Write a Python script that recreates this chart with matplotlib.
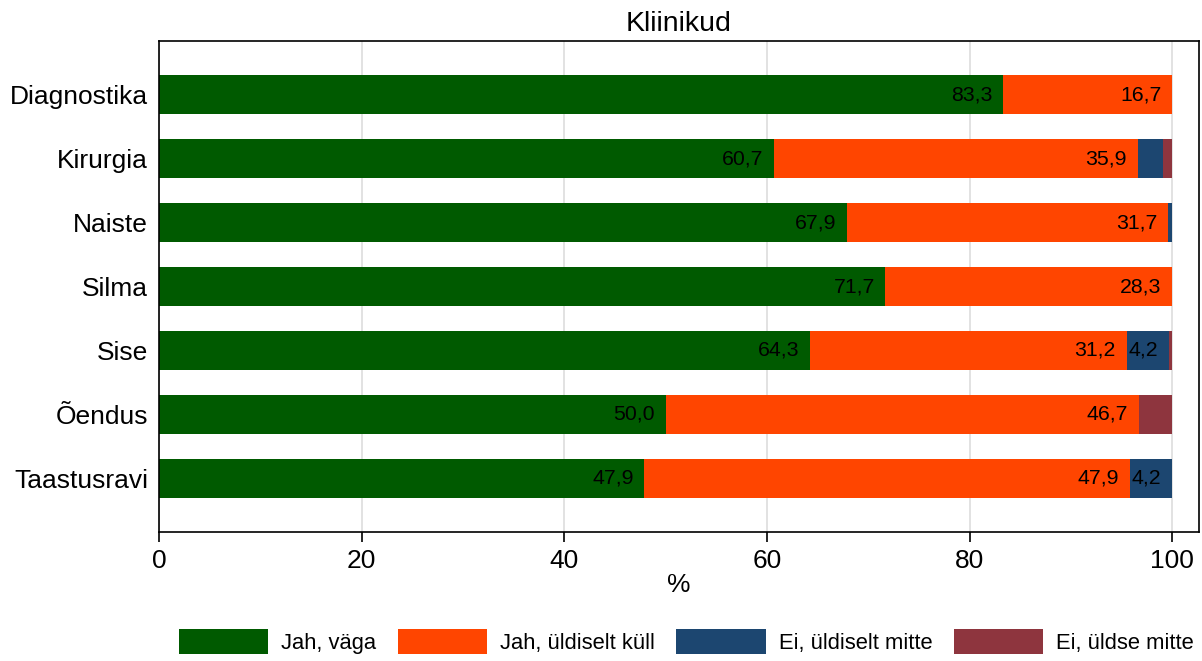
#import libraries
import matplotlib.pyplot as plt
import numpy as np

plt.rcParams['font.family'] = ['Liberation Sans', 'DejaVu Sans']

#Data Definition
categories = ['Diagnostika', 'Kirurgia', 'Naiste', 'Silma', 'Sise', 'Õendus', 'Taastusravi']
series = ['Jah, väga', 'Jah, üldiselt küll', 'Ei, üldiselt mitte', 'Ei, üldse mitte']
jah_vaga = [83.3, 60.7, 67.9, 71.7, 64.3, 50.0, 47.9]
jah_kyll = [16.7, 35.9, 31.7, 28.3, 31.2, 46.7, 47.9]
ei_mitte = [0.0, 2.5, 0.4, 0.0, 4.2, 0.0, 4.2]
ei_yldse = [0.0, 0.9, 0.0, 0.0, 0.3, 3.3, 0.0]
colors = ['#005A00', '#FF4500', '#1C4670', '#8E353E']

#Create Figure
fig = plt.figure(figsize=(12.02, 6.61), dpi=100)
ax = fig.add_axes([0.1323, 0.195, 0.8652, 0.743])

#Create Plot
y = np.arange(len(categories))
left = np.zeros(len(categories))
for name, vals, col in zip(series, [jah_vaga, jah_kyll, ei_mitte, ei_yldse], colors):
    vals = np.array(vals)
    ax.barh(y, vals, left=left, height=0.61, color=col, label=name, zorder=2)
    for yi, l, v in zip(y, left, vals):
        if v >= 4:
            ax.text(l + v - 1.05, yi, f'{v:.1f}'.replace('.', ','),
                    ha='right', va='center', fontsize=15.3, color='black', zorder=3)
    left += vals

#Modify figure's appearance
ax.set_xlim(0, 102.65)
ax.set_ylim(6.84, -0.84)
ax.set_yticks(y)
ax.set_yticklabels(categories, fontsize=19)
ax.tick_params(axis='y', length=0, pad=8)
ax.set_xticks([0, 20, 40, 60, 80, 100])
ax.tick_params(axis='x', labelsize=19, length=7, width=1.2, pad=5)
ax.grid(axis='x', color='#DDDDDD', linewidth=1.2, zorder=0)
ax.set_axisbelow(True)
for s in ax.spines.values():
    s.set_linewidth(1.2)
ax.set_xlabel('%', fontsize=19, labelpad=0)
ax.set_title('Kliinikud', fontsize=20.5, pad=7)

fig.legend(loc='lower center', bbox_to_anchor=(0.571, -0.02), ncol=4, frameon=False,
           fontsize=15.8, handlelength=4.06, handleheight=1.4, handletextpad=0.6,
           columnspacing=0.98)

#Save Plot
plt.savefig('out.png', dpi=100)
